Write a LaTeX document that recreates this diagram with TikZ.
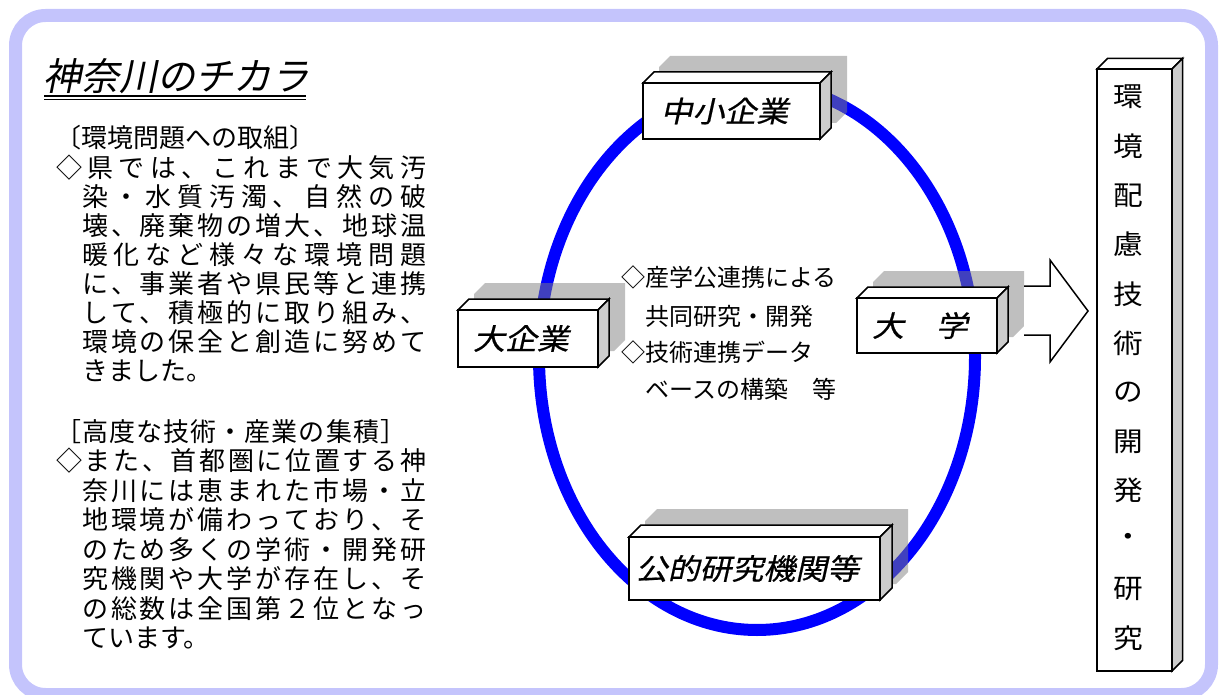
\documentclass[tikz,border=0pt]{standalone}
\usepackage{fontspec}
\setmainfont{Noto Sans CJK JP}
\newfontfamily\titlefont[FakeSlant=0.2]{Noto Sans CJK JP}
\newfontfamily\boxfont[FakeSlant=0.22,FakeStretch=1.1,FakeBold=0.6]{Noto Sans CJK JP}
\newfontfamily\widefont[FakeStretch=1.1]{Noto Sans CJK JP}
\definecolor{framec}{RGB}{196,196,252}
\definecolor{sidec}{RGB}{204,204,204}
\definecolor{ringc}{RGB}{0,0,255}
\makeatletter
\def\dist#1#2{\makebox[#1][s]{\dist@a#2\@nil}}
\def\dist@a#1{#1\dist@b}
\def\dist@b#1{\ifx\@nil#1\else\hfil#1\expandafter\dist@b\fi}
\makeatother
\newcommand\cubebox[7]{%
  \fill[shadowc] ({#2+16},{#3-16}) -- ({#2+#6+16},{#3-#6-16}) -- ({#4+#6+16},{#3-#6-16}) -- ({#4+#6+16},{#5-#6-16}) -- ({#4+16},{#5-16}) -- ({#2+16},{#5-16}) -- cycle;
  \filldraw[face] (#2,#3) -- ({#2+#6},{#3-#6}) -- ({#4+#6},{#3-#6}) -- (#4,#3) -- cycle;
  \filldraw[face,fill=sidec] (#4,#3) -- ({#4+#6},{#3-#6}) -- ({#4+#6},{#5-#6}) -- (#4,#5) -- cycle;
  \node[frontface,minimum width={#4-#2},minimum height={#5-#3}] (#1) at ({(#2+#4)/2},{(#3+#5)/2}) {\hspace*{-14pt}#7};
}
\begin{document}
\begin{tikzpicture}[x=1pt,y=-1pt,
  face/.style={draw=black, line width=1.5pt, fill=white, line join=miter},
  frontface/.style={draw=black, line width=1.5pt, fill=white, inner sep=0pt, font=\boxfont\fontsize{29}{29}\selectfont},
  shadowc/.style={fill={rgb,255:red,128;green,128;blue,128}, opacity=0.5},
  body/.style={anchor=west, inner sep=0pt, font=\fontsize{26}{26}\selectfont},
  mid/.style={anchor=west, inner sep=0pt, font=\fontsize{24}{24}\selectfont},
  vchar/.style={inner sep=0pt, font=\widefont\fontsize{27}{27}\selectfont}]
\useasboundingbox (0,0) rectangle (1221,695);
% outer frame
\draw[framec, line width=13pt, rounded corners=30pt] (15.5,15.5) rectangle (1211.5,694.5);
% ring
\draw[ringc, line width=12pt] (757,357) ellipse [x radius=218pt, y radius=273pt];
% boxes
\cubebox{sme}{643}{83}{820}{139}{11}{中小企業}
\cubebox{big}{458}{310}{598}{367}{11}{大企業}
\cubebox{univ}{857}{298}{997}{353}{11}{大　学}
\cubebox{pub}{629}{537}{880}{600}{12}{公的研究機関等}
% block arrow
\filldraw[face] (1024,286) -- (1050,286) -- (1050,260) -- (1088,311) -- (1050,362) -- (1050,335) -- (1024,335);
% vertical box
\filldraw[face] (1097,69) -- (1107.5,58.5) -- (1182.5,58.5) -- (1172,69) -- cycle;
\filldraw[face,fill=sidec] (1172,69) -- (1182.5,58.5) -- (1182.5,660.5) -- (1172,671) -- cycle;
\node[face, inner sep=0pt, minimum width=75, minimum height=602] (tech) at (1134.5,370) {};
\foreach \ch [count=\i from 0] in {環,境,配,慮,技,術,の,開,発,・,研,究}
  \node[vchar] (v\i) at (1128,{97+49.2*\i}) {\ch};
% title
\node[anchor=west, inner sep=0pt, font=\titlefont\fontsize{38}{38}\selectfont] (title) at (43,76) {神奈川のチカラ};
\draw[line width=1.2pt] (44,96) -- (306,96);
\draw[line width=1.2pt] (44,99.5) -- (306,99.5);
% left text
\node[body] (h1) at (55,138) {〔環境問題への取組〕};
\node[body] (p1a) at (56,168) {\dist{370pt}{◇県では、これまで大気汚}};
\node[body] (p1b) at (82,197) {\dist{344pt}{染・水質汚濁、自然の破}};
\node[body] (p1c) at (82,226) {\dist{344pt}{壊、廃棄物の増大、地球温}};
\node[body] (p1d) at (82,255) {\dist{344pt}{暖化など様々な環境問題}};
\node[body] (p1e) at (82,284) {\dist{344pt}{に、事業者や県民等と連携}};
\node[body] (p1f) at (82,313) {\dist{344pt}{して、積極的に取り組み、}};
\node[body] (p1g) at (82,342) {\dist{344pt}{環境の保全と創造に努めて}};
\node[body] (p1h) at (82,371) {きました。};
\node[body] (h2) at (55,432) {\dist{351pt}{［高度な技術・産業の集積］}};
\node[body] (p2a) at (56,461) {\dist{370pt}{◇また、首都圏に位置する神}};
\node[body] (p2b) at (82,490.5) {\dist{344pt}{奈川には恵まれた市場・立}};
\node[body] (p2c) at (82,520) {\dist{344pt}{地環境が備わっており、そ}};
\node[body] (p2d) at (82,549.5) {\dist{344pt}{のため多くの学術・開発研}};
\node[body] (p2e) at (82,579) {\dist{344pt}{究機関や大学が存在し、そ}};
\node[body] (p2f) at (82,608.5) {\dist{344pt}{の総数は全国第２位となっ}};
\node[body] (p2g) at (82,638) {ています。};
% centre text
\node[mid] (c1) at (621,277) {◇産学公連携による};
\node[mid] (c2) at (645,316) {共同研究・開発};
\node[mid] (c3) at (621,352) {◇技術連携データ};
\node[mid] (c4) at (645,389) {ベースの構築　等};
\end{tikzpicture}
\end{document}
